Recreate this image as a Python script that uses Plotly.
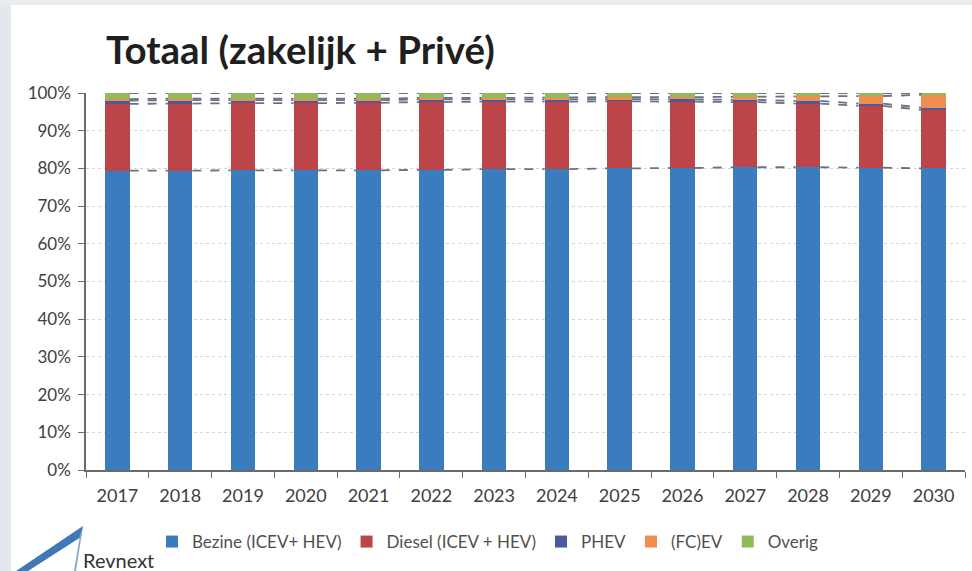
import plotly.graph_objects as go

years = ["2017", "2018", "2019", "2020", "2021", "2022", "2023", "2024", "2025", "2026", "2027", "2028", "2029", "2030"]
bezine = [79.4, 79.4, 79.5, 79.5, 79.5, 79.6, 79.8, 79.8, 80.0, 80.1, 80.3, 80.3, 80.2, 80.0]
diesel = [17.7, 17.8, 17.8, 17.8, 17.9, 18.0, 17.9, 17.9, 17.8, 17.6, 17.3, 16.9, 16.4, 15.5]
phev   = [0.9, 0.9, 0.8, 0.8, 0.7, 0.7, 0.6, 0.6, 0.6, 0.6, 0.6, 0.7, 0.6, 0.6]
fcev   = [0.4, 0.4, 0.4, 0.4, 0.4, 0.4, 0.4, 0.5, 0.5, 0.6, 0.8, 1.2, 2.0, 3.4]
overig = [1.6, 1.5, 1.5, 1.5, 1.5, 1.3, 1.3, 1.2, 1.1, 1.1, 1.0, 0.9, 0.8, 0.5]
y_ticks = [0, 10, 20, 30, 40, 50, 60, 70, 80, 90, 100]

series = [
    ("Bezine (ICEV+ HEV)", bezine, "#3b7cbf"),
    ("Diesel (ICEV + HEV)", diesel, "#bb4549"),
    ("PHEV", phev, "#4a5a9e"),
    ("(FC)EV", fcev, "#f08e4f"),
    ("Overig", overig, "#8fbb5c"),
]

W, H = 972, 571
L, R, T, B = 86, 7, 93, 101
PW, PH = W - L - R, H - T - B
BAR_W = 0.39

def px(x):
    return (x - L) / PW

def py(y):
    return (H - B - y) / PH

xs = list(range(len(years)))
fig = go.Figure()

# series lines (Excel style) connecting segment tops between bars
cum = [0.0] * len(years)
tops = []
for name, vals, col in series:
    cum = [c + v for c, v in zip(cum, vals)]
    tops.append(list(cum))

for t in tops:
    lx, ly = [], []
    for i in range(len(years) - 1):
        lx += [xs[i] + BAR_W / 2, xs[i + 1] - BAR_W / 2, None]
        ly += [t[i], t[i + 1], None]
    fig.add_trace(go.Scatter(x=lx, y=ly, mode="lines", showlegend=False, hoverinfo="skip",
                             line=dict(color="#6a7282", width=1.8, dash="dash")))

for name, vals, col in series:
    fig.add_trace(go.Bar(x=xs, y=vals, name=name, marker=dict(color=col, line=dict(width=0)),
                         width=BAR_W))

fig.update_layout(
    width=W, height=H,
    margin=dict(l=L, r=R, t=T, b=B),
    barmode="stack",
    paper_bgcolor="white", plot_bgcolor="white",
    font=dict(family="Lato, sans-serif", color="#404040", size=18),
    legend=dict(orientation="h", x=px(152), xanchor="left", y=py(542), yanchor="middle",
                font=dict(size=17, color="#505050"), itemwidth=30, traceorder="normal",
                bgcolor="rgba(0,0,0,0)"),
    title=dict(text="<b>Totaal (zakelijk + Privé)</b>", x=106 / W, xanchor="left",
               y=1 - 51 / H, yanchor="middle",
               font=dict(family="Lato, sans-serif", size=38.5, color="#1f1f1f")),
    xaxis=dict(range=[-0.5, len(years) - 0.5], tickmode="array", tickvals=xs, ticktext=years,
               ticks="", showgrid=False, zeroline=False, showline=True, linecolor="#6b6b6b",
               linewidth=1.5, tickfont=dict(size=18, color="#404040"), ticklabelstandoff=9,
               minor=dict(tickmode="array", tickvals=[i - 0.5 for i in range(len(years) + 1)],
                          ticks="outside", ticklen=6, tickcolor="#6b6b6b", showgrid=False)),
    yaxis=dict(range=[0, 100], tickmode="array", tickvals=y_ticks,
               ticktext=[f"{v}%" for v in y_ticks], ticks="outside", ticklen=6,
               tickcolor="#6b6b6b", showline=True, linecolor="#6b6b6b", linewidth=1.5,
               showgrid=True, gridcolor="#d4d4d4", griddash="dot", zeroline=False,
               tickfont=dict(size=17, color="#404040"), ticklabelstandoff=4),
)

# scan edges
fig.add_shape(type="rect", xref="paper", yref="paper", x0=px(0), x1=px(11), y0=py(H), y1=py(0),
              fillcolor="#e3e8ee", line=dict(width=0), layer="below")
fig.add_shape(type="rect", xref="paper", yref="paper", x0=px(0), x1=px(W), y0=py(5), y1=py(0),
              fillcolor="#ececec", line=dict(width=0), layer="below")

# Revnext logo
fig.add_shape(type="path", xref="paper", yref="paper",
              path=f"M {px(16)},{py(571)} L {px(83)},{py(526)} L {px(81)},{py(537)} L {px(28)},{py(571)} Z",
              fillcolor="#3f78b5", line=dict(width=0))
fig.add_shape(type="path", xref="paper", yref="paper",
              path=f"M {px(83)},{py(526)} L {px(76)},{py(571)} L {px(74)},{py(571)} L {px(80)},{py(535)} Z",
              fillcolor="#8aa9c9", line=dict(width=0))
fig.add_annotation(text="Revnext", xref="paper", yref="paper", x=px(81), y=py(560),
                   xanchor="left", yanchor="middle", showarrow=False,
                   font=dict(family="Lato, sans-serif", size=20, color="#333333"))

fig.write_html("out.html", config={"displayModeBar": False},
               post_script="document.body.style.margin='0';")
